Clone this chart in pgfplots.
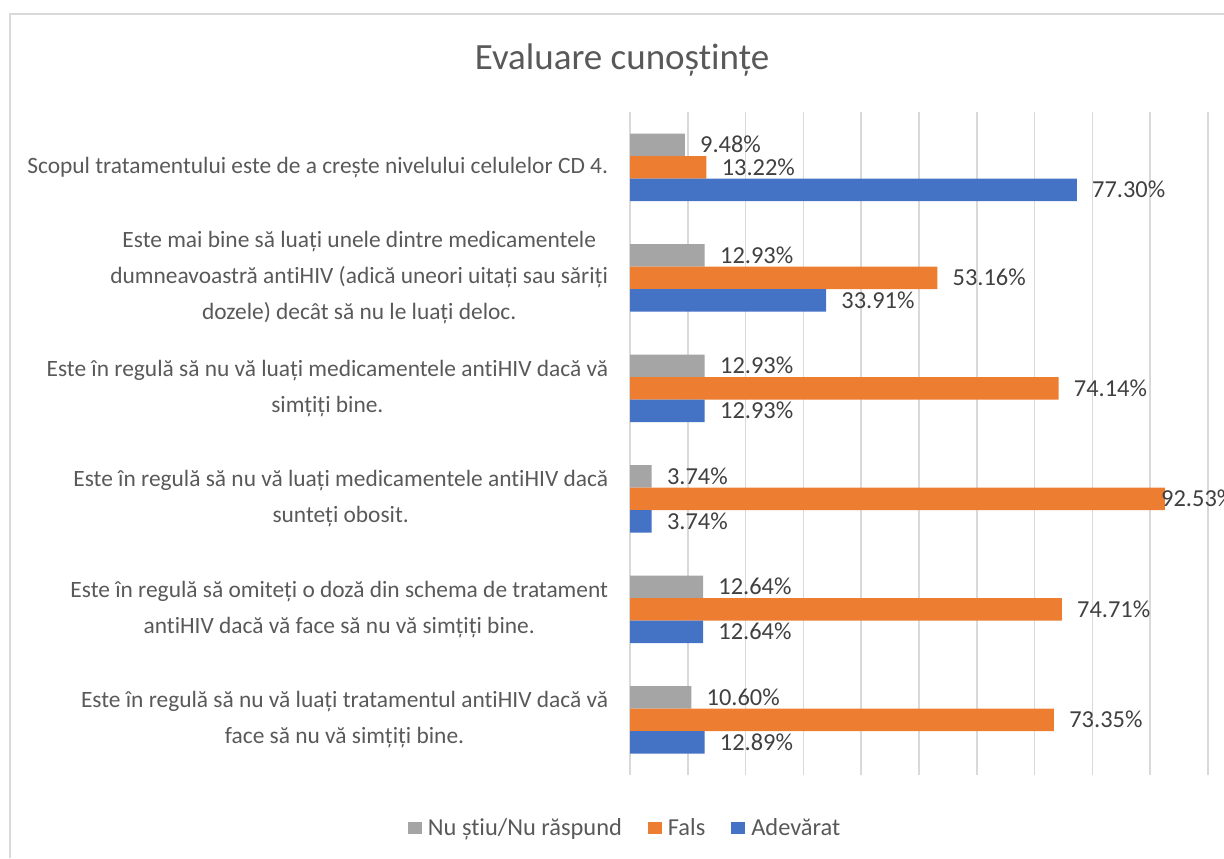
\documentclass[border=0pt]{standalone}
\usepackage{pgfplots}
\pgfplotsset{compat=1.18}
\usepackage{pgfplotstable}
\usepackage{fontspec}
\setmainfont{Carlito}[Ligatures={NoCommon}]
\definecolor{cblue}{HTML}{4472C4}
\definecolor{corange}{HTML}{ED7D31}
\definecolor{cgray}{HTML}{A5A5A5}
\definecolor{gridc}{HTML}{D9D9D9}
\definecolor{txt}{HTML}{595959}
\definecolor{lbl}{HTML}{404040}
\pgfplotstableread{
y g o b
0 10.60 73.35 12.89
1 12.64 74.71 12.64
2 3.74 92.53 3.74
3 12.93 74.14 12.93
4 12.93 53.16 33.91
5 9.48 13.22 77.30
}\data
\begin{document}
\begin{tikzpicture}
\path[use as bounding box] (0,0) rectangle (612pt,429pt);
\draw[gridc, line width=1pt] (5pt,0) -- (5pt,422pt) -- (612pt,422pt);
\node[text=txt, font=\fontsize{18.5}{22}\selectfont] at (311pt,399pt) {Evaluare cunoștințe};
\begin{axis}[
 at={(315pt,41.5pt)}, anchor=south west, scale only axis, width=289pt, height=331.5pt,
 xbar, bar width=11.25pt,
 xmin=0, xmax=100, ymin=-0.5, ymax=5.5,
 xtick={0,10,...,100}, xticklabels={}, xmajorgrids, grid style={gridc, line width=0.75pt},
 ytick={0,...,5},
 yticklabels={
  {Este în regulă să nu vă luați tratamentul antiHIV dacă vă\\face să nu vă simțiți bine.},
  {Este în regulă să omiteți o doză din schema de tratament\\antiHIV dacă vă face să nu vă simțiți bine.},
  {Este în regulă să nu vă luați medicamentele antiHIV dacă\\sunteți obosit.},
  {Este în regulă să nu vă luați medicamentele antiHIV dacă vă\\simțiți bine.},
  {Este mai bine să luați unele dintre medicamentele\\dumneavoastră antiHIV (adică uneori uitați sau săriți\\dozele) decât să nu le luați deloc.},
  {Scopul tratamentului este de a crește nivelului celulelor CD 4.}},
 yticklabel style={align=center, text=txt, font=\fontsize{11.7}{18}\selectfont, inner sep=0pt, xshift=-6.5pt},
 axis line style={draw=none}, major tick style={draw=none},
 point meta=x,
 /pgf/number format/assume math mode=true,
 visualization depends on={rawx \as \myx},
 nodes near coords={\pgfmathprintnumber[fixed,fixed zerofill,precision=2,assume math mode=true]{\pgfplotspointmeta}\%},
 every node near coord/.append style={anchor=west, text=lbl, font=\fontsize{12.2}{14}\selectfont, inner xsep=0pt, xshift={(\myx>90?-2:7.5)}},
 legend columns=3,
 legend style={at={(-0.005,-0.08)}, anchor=center, draw=none, fill=none, font=\fontsize{12.2}{14}\selectfont, text=txt,
   nodes={inner xsep=3pt},
   /tikz/every even column/.append style={column sep=10pt}},
 legend image code/.code={\fill[#1] (0pt,-3pt) rectangle (7pt,3pt);},
]
\addplot[fill=cgray, draw=none, bar shift=11.25pt] table[x=g, y=y] {\data};
\addlegendentry{Nu știu/Nu răspund}
\addplot[fill=corange, draw=none, bar shift=0pt] table[x=o, y=y] {\data};
\addlegendentry{Fals}
\addplot[fill=cblue, draw=none, bar shift=-11.25pt] table[x=b, y=y] {\data};
\addlegendentry{Adevărat}
\end{axis}
\end{tikzpicture}
\end{document}
